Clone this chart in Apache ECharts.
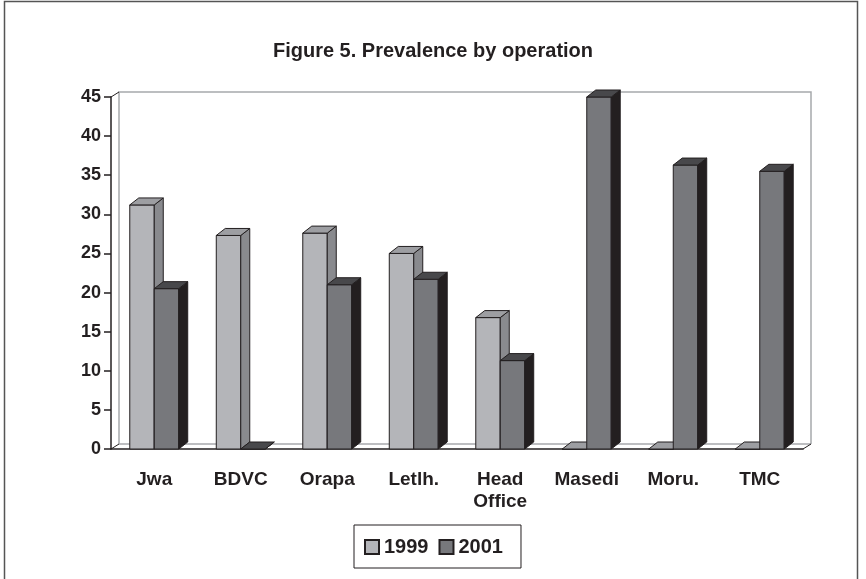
<!DOCTYPE html>
<html>
<head>
<meta charset="utf-8">
<style>
  html, body { margin: 0; padding: 0; background: #fff; }
  .main { width: 866px; height: 579px; }
</style>
<script src="https://cdn.jsdelivr.net/npm/echarts@6/dist/echarts.min.js"></script>
</head>
<body>
<div class="main"></div>
<script>
var categories = ['Jwa', 'BDVC', 'Orapa', 'Letlh.', 'Head\nOffice', 'Masedi', 'Moru.', 'TMC'];
var years = ['1999', '2001'];
var val1999 = [31.2, 27.3, 27.6, 25.0, 16.8, 0, 0, 0];
var val2001 = [20.5, 0, 21.0, 21.7, 11.3, 45.0, 36.3, 35.5];
var yTicks = [0, 5, 10, 15, 20, 25, 30, 35, 40, 45];

var FONT = '"Liberation Sans", Arial, sans-serif';
var INK = '#231f20';
// depth of the fake 3d
var DX = 9, DY = -7;

function pairs(arr) {
  var out = [];
  for (var i = 0; i < arr.length; i++) out.push([i, arr[i]]);
  return out;
}

function barRenderer(side, front, sideCol, topCol) {
  return function (params, api) {
    var cat = api.value(0), v = api.value(1);
    var base = api.coord([cat, 0]);
    var top = api.coord([cat, v]);
    var band = api.size([1, 0])[0];
    var w = band * 0.283;
    var x0 = side === 0 ? base[0] - w : base[0];
    var x1 = x0 + w;
    var yt = top[1], yb = base[1];
    var st = { stroke: INK, lineWidth: 1 };
    return {
      type: 'group',
      children: [
        { type: 'rect', shape: { x: x0, y: yt, width: w, height: yb - yt },
          style: Object.assign({ fill: front }, st) },
        { type: 'polygon', shape: { points: [[x1, yt], [x1 + DX, yt + DY], [x1 + DX, yb + DY], [x1, yb]] },
          style: Object.assign({ fill: sideCol }, st) },
        { type: 'polygon', shape: { points: [[x0, yt], [x0 + DX, yt + DY], [x1 + DX, yt + DY], [x1, yt]] },
          style: Object.assign({ fill: topCol }, st) }
      ]
    };
  };
}

function wallRenderer(params, api) {
  var band = api.size([1, 0])[0];
  var l = api.coord([0, 0])[0] - band / 2;
  var r = api.coord([categories.length - 1, 0])[0] + band / 2;
  var y0 = api.coord([0, 0])[1];
  var yTop = api.coord([0, yTicks[yTicks.length - 1]])[1];
  var wx = 8, wy = -5;
  var gray = { stroke: '#a7a9ac', lineWidth: 1.5, fill: null };
  var dark = { stroke: INK, lineWidth: 1, fill: null };
  return {
    type: 'group',
    children: [
      { type: 'polyline', shape: { points: [[l + wx, y0 + wy], [l + wx, yTop + wy], [r + wx, yTop + wy], [r + wx, y0 + wy]] }, style: gray },
      { type: 'line', shape: { x1: l + wx, y1: y0 + wy, x2: r + wx, y2: y0 + wy }, style: gray },
      { type: 'line', shape: { x1: l, y1: yTop, x2: l + wx, y2: yTop + wy }, style: dark },
      { type: 'line', shape: { x1: l, y1: y0, x2: l + wx, y2: y0 + wy }, style: dark },
      { type: 'line', shape: { x1: r, y1: y0, x2: r + wx, y2: y0 + wy }, style: dark }
    ]
  };
}

var myChart = echarts.init(document.querySelector('.main'));
var option = {
  backgroundColor: '#fff',
  animation: false,
  textStyle: { fontFamily: FONT },
  title: {
    text: 'Figure 5. Prevalence by operation',
    left: 'center',
    top: 36,
    textStyle: { fontFamily: FONT, fontSize: 20, fontWeight: 'bold', color: INK }
  },
  graphic: [{
    type: 'rect',
    shape: { x: 4.5, y: 1.5, width: 853, height: 600 },
    style: { fill: null, stroke: '#555', lineWidth: 1.5 },
    silent: true
  }],
  legend: {
    data: years,
    left: 354,
    top: 525,
    padding: [12, 18, 11, 10],
    borderColor: INK,
    borderWidth: 1,
    itemWidth: 14,
    itemHeight: 14,
    itemGap: 10,
    icon: 'rect',
    textStyle: { fontFamily: FONT, fontSize: 20, fontWeight: 'bold', color: INK, padding: [0, 0, 0, 0] }
  },
  grid: { left: 111, right: 63, top: 97, bottom: 130 },
  xAxis: {
    type: 'category',
    data: categories,
    boundaryGap: true,
    axisLine: { lineStyle: { color: INK, width: 1.5 } },
    axisTick: { show: false },
    axisLabel: { margin: 20, fontFamily: FONT, fontSize: 19, fontWeight: 'bold', color: INK, lineHeight: 22, interval: 0 }
  },
  yAxis: {
    type: 'value',
    min: 0,
    max: 45,
    interval: 5,
    splitLine: { show: false },
    axisLine: { show: true, lineStyle: { color: INK, width: 1.5 } },
    axisTick: { show: true, length: 7, lineStyle: { color: INK, width: 1.5 } },
    axisLabel: { margin: 10, fontFamily: FONT, fontSize: 18, fontWeight: 'bold', color: INK }
  },
  series: [
    {
      name: 'wall',
      type: 'custom',
      z: 1,
      silent: true,
      renderItem: wallRenderer,
      data: [[0, 0]],
      encode: { x: 0, y: 1 }
    },
    {
      name: '1999',
      type: 'custom',
      z: 2,
      itemStyle: { color: '#b4b5b9', borderColor: INK, borderWidth: 1 },
      renderItem: barRenderer(0, '#b4b5b9', '#898a8e', '#9d9ea2'),
      data: pairs(val1999),
      encode: { x: 0, y: 1 }
    },
    {
      name: '2001',
      type: 'custom',
      z: 3,
      itemStyle: { color: '#77787c', borderColor: INK, borderWidth: 1 },
      renderItem: barRenderer(1, '#77787c', '#231f20', '#48484b'),
      data: pairs(val2001),
      encode: { x: 0, y: 1 }
    }
  ]
};
myChart.setOption(option);
</script>
</body>
</html>
